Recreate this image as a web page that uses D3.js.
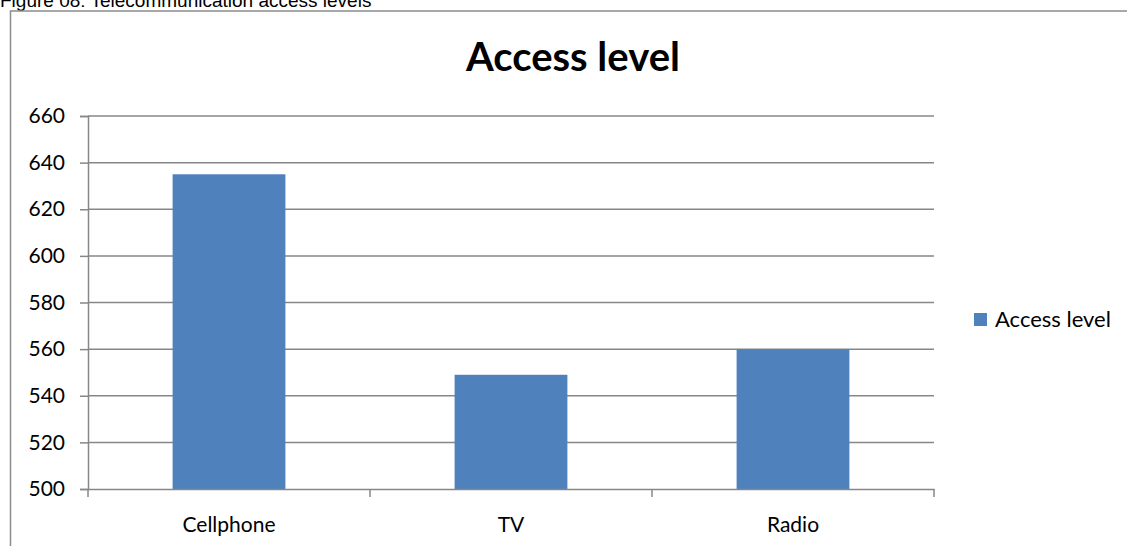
<!DOCTYPE html>
<html>
<head>
<meta charset="utf-8">
<script src="https://cdn.jsdelivr.net/npm/d3@7"></script>
<style>
  html, body { margin: 0; padding: 0; background: #fff; }
  svg { display: block; }
</style>
</head>
<body>
<svg id="chart" width="1127" height="546"></svg>
<script>
const categories = ["Cellphone", "TV", "Radio"];
const values = [635, 549, 560];
const seriesName = "Access level";
const yTicks = [500, 520, 540, 560, 580, 600, 620, 640, 660];
const chartTitle = "Access level";
const caption = "Figure 08: Telecommunication access levels";

const svg = d3.select("#chart");
const W = 1127, H = 546;
const plot = { left: 88, right: 934, top: 116, bottom: 489 };
const grid = "#878787";
const barColor = "#4F81BD";
const font = "Lato, 'Open Sans', sans-serif";

// caption (cut off at top, as in the reference)
svg.append("text")
  .attr("x", 0).attr("y", 7)
  .attr("font-family", "'Liberation Sans', Arial, sans-serif")
  .attr("font-size", 19).attr("fill", "#000")
  .text(caption);

// chart frame
svg.append("rect")
  .attr("x", 10.5).attr("y", 11)
  .attr("width", W + 10).attr("height", H + 10)
  .attr("fill", "none").attr("stroke", "#8c8c8c").attr("stroke-width", 1.5);

const x = d3.scaleBand().domain(categories)
  .range([plot.left, plot.right]).paddingInner(0.6).paddingOuter(0.3);
const xb = d3.scaleBand().domain(categories).range([plot.left, plot.right]);
const y = d3.scaleLinear().domain([500, 660]).range([plot.bottom, plot.top]);

// gridlines
svg.append("g").selectAll("line").data(yTicks.filter(t => t !== 500)).join("line")
  .attr("x1", plot.left).attr("x2", plot.right)
  .attr("y1", d => y(d)).attr("y2", d => y(d))
  .attr("stroke", grid).attr("stroke-width", 1.5);

// bars
svg.append("g").selectAll("rect").data(categories).join("rect")
  .attr("x", d => x(d)).attr("width", x.bandwidth())
  .attr("y", (d, i) => y(values[i]))
  .attr("height", (d, i) => y(500) - y(values[i]))
  .attr("fill", barColor);

// y axis
const yAxis = svg.append("g").attr("transform", `translate(${plot.left},0)`)
  .call(d3.axisLeft(y).tickValues(yTicks).tickSize(8).tickPadding(15).tickFormat(d3.format("d")));
yAxis.select(".domain").attr("stroke", grid).attr("stroke-width", 1.5);
yAxis.selectAll(".tick line").attr("stroke", grid).attr("stroke-width", 1.5);
yAxis.selectAll(".tick text").attr("font-family", font).attr("font-size", 21).attr("fill", "#000");

// x axis
const xAxis = svg.append("g").attr("transform", `translate(0,${plot.bottom})`)
  .call(d3.axisBottom(xb).tickSize(0).tickPadding(28));
xAxis.select(".domain").attr("stroke", grid).attr("stroke-width", 1.5);
xAxis.selectAll(".tick text").attr("font-family", font).attr("font-size", 21).attr("fill", "#000");
const bounds = [plot.left].concat(categories.map(c => xb(c) + xb.bandwidth()));
xAxis.selectAll(".sep").data(bounds).join("line").attr("class", "sep")
  .attr("x1", d => d).attr("x2", d => d).attr("y1", 0).attr("y2", 8)
  .attr("stroke", grid).attr("stroke-width", 1.5);

// title
svg.append("text")
  .attr("x", 573).attr("y", 71)
  .attr("text-anchor", "middle")
  .attr("font-family", font).attr("font-weight", "bold")
  .attr("font-size", 40).attr("fill", "#000")
  .text(chartTitle);

// legend
const lg = svg.append("g");
lg.append("rect").attr("x", 974).attr("y", 313).attr("width", 13).attr("height", 13).attr("fill", barColor);
lg.append("text").attr("x", 995).attr("y", 327)
  .attr("font-family", font).attr("font-size", 22).attr("fill", "#000")
  .text(seriesName);
</script>
</body>
</html>
